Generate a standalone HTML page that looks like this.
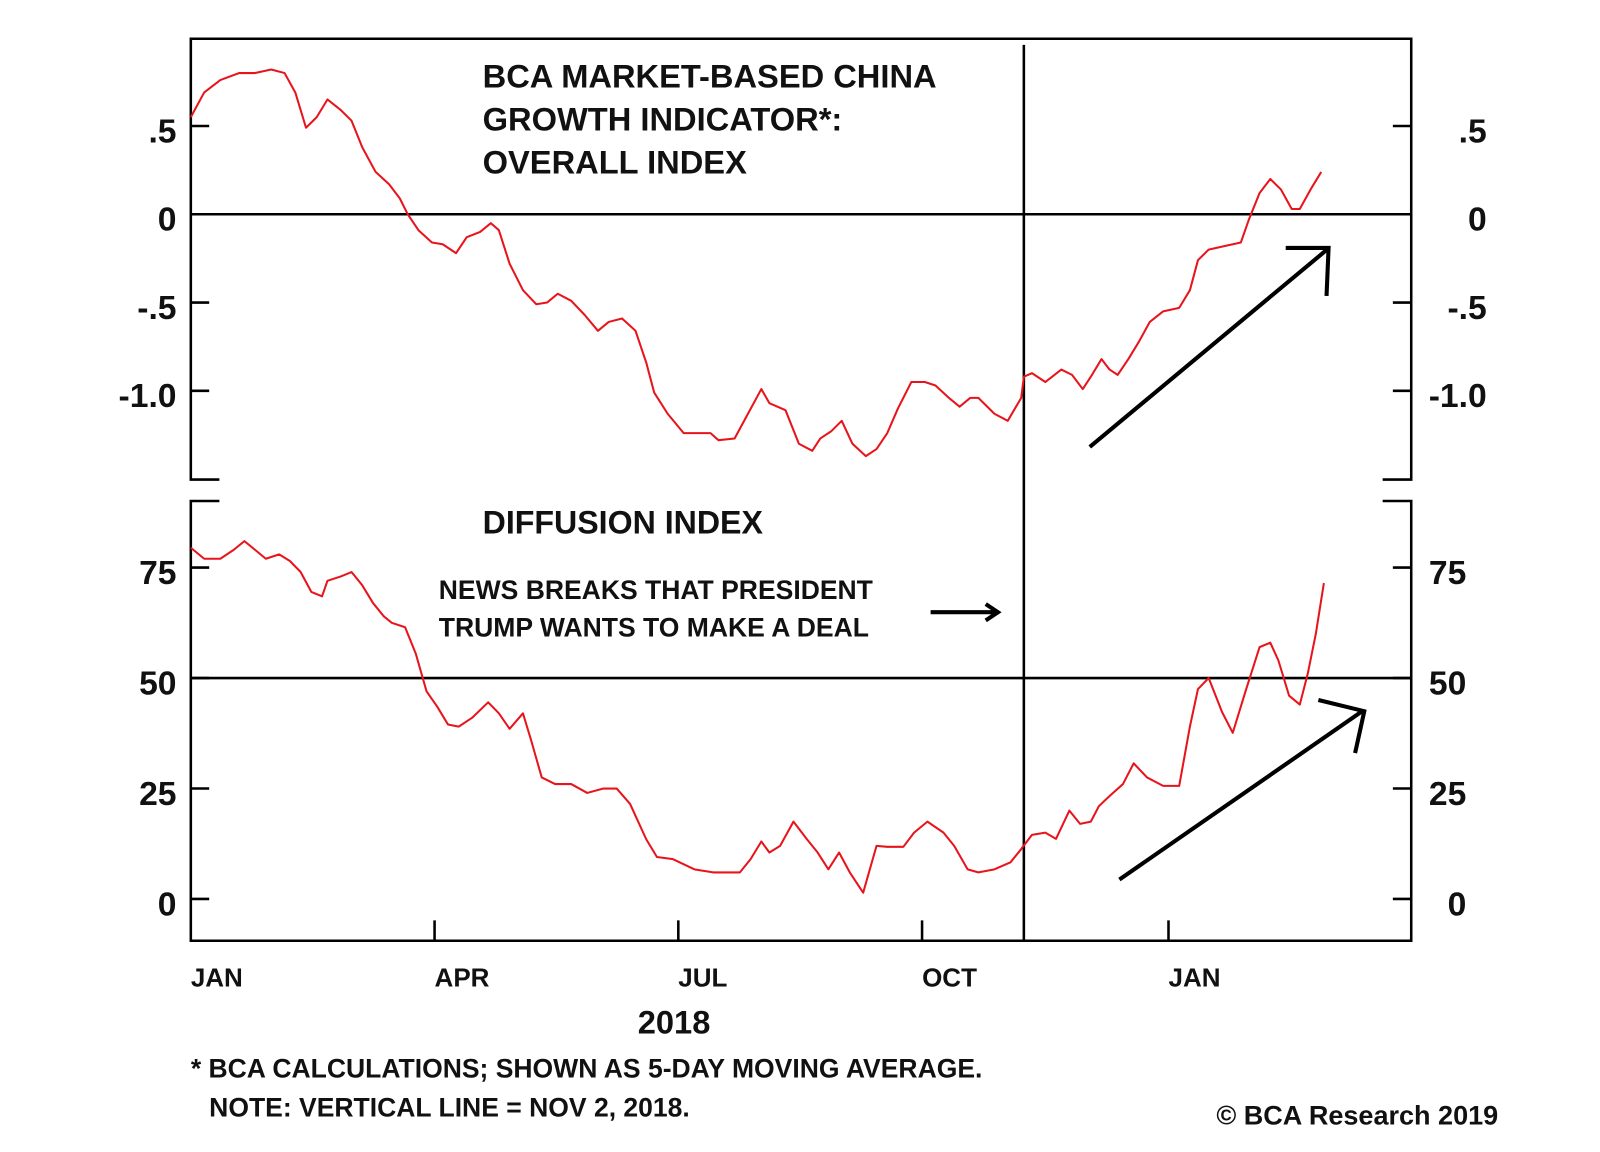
<!DOCTYPE html>
<html><head><meta charset="utf-8"><title>BCA China Growth Indicator</title>
<style>
html,body{margin:0;padding:0;background:#fff;}
svg{display:block;}
text{font-family:"Liberation Sans",Arial,sans-serif;font-weight:bold;fill:#111;}
</style></head>
<body>
<svg id="chart" width="1600" height="1152" viewBox="0 0 1568 1129" preserveAspectRatio="none" xmlns="http://www.w3.org/2000/svg">
<rect x="0" y="0" width="1568" height="1129" fill="#fff"/>
<g id="frame" stroke="#000" stroke-width="2.5" fill="none">
<path d="M215,470 L187,470 L187,38 L1383,38 L1383,470 L1355,470"/>
<path d="M215,491 L187,491 L187,922 L1383,922 L1383,491 L1355,491"/>
</g>
<g id="axes" stroke="#000" stroke-width="2.5"></g>
<g id="labels"></g>
<g id="series"></g>
<g>
<text x="473" y="86" font-size="32">BCA MARKET-BASED CHINA</text>
<text x="473" y="128" font-size="32">GROWTH INDICATOR*:</text>
<text x="473" y="170" font-size="32">OVERALL INDEX</text>
<text x="473" y="523" font-size="31.5">DIFFUSION INDEX</text>
<text x="430" y="587" font-size="26">NEWS BREAKS THAT PRESIDENT</text>
<text x="430" y="624" font-size="26">TRUMP WANTS TO MAKE A DEAL</text>
<g stroke="#000" stroke-width="4" fill="none">
<path d="M912,600 L978,600 M966,592 L978,600 L966,608"/>
<path d="M1068,438 L1300,245 M1260,243 L1302,243 L1300,290"/>
<path d="M1097,862 L1335,697 M1292,686 L1337,697 L1328,738"/>
</g>
<text x="625" y="1013" font-size="32">2018</text>
<text x="187" y="1056" font-size="26">* BCA CALCULATIONS; SHOWN AS 5-DAY MOVING AVERAGE.</text>
<text x="205" y="1094" font-size="26">NOTE: VERTICAL LINE = NOV 2, 2018.</text>
<text x="1192" y="1102" font-size="26.5">© BCA Research 2019</text>
</g>
</svg>
<script>
const topDays=[0,5,11,18,24,30,35,39,43,47,51,56,60,64,69,74,78,81,85,90,94,99,103,108,112,115,119,124,129,133,137,142,147,152,156,161,166,170,173,178,184,190,194,197,203,208,213,216,222,227,232,235,239,243,247,252,256,260,264,269,274,278,283,287,291,294,300,305,310,311,314,319,325,329,333,336,340,343,346,350,354,358,363,369,373,376,380,386,392,395,399,403,407,411,414,418,422];
const topValues=[0.55,0.69,0.76,0.80,0.80,0.82,0.80,0.69,0.49,0.55,0.65,0.59,0.53,0.38,0.24,0.17,0.09,0,-0.09,-0.16,-0.17,-0.22,-0.13,-0.10,-0.05,-0.09,-0.28,-0.43,-0.51,-0.50,-0.45,-0.49,-0.57,-0.66,-0.61,-0.59,-0.66,-0.84,-1.01,-1.13,-1.24,-1.24,-1.24,-1.28,-1.27,-1.13,-0.99,-1.07,-1.11,-1.30,-1.34,-1.27,-1.23,-1.17,-1.30,-1.37,-1.33,-1.24,-1.10,-0.95,-0.95,-0.97,-1.04,-1.09,-1.04,-1.04,-1.13,-1.17,-1.04,-0.92,-0.90,-0.95,-0.88,-0.91,-0.99,-0.92,-0.82,-0.88,-0.91,-0.82,-0.72,-0.61,-0.55,-0.53,-0.43,-0.26,-0.20,-0.18,-0.16,-0.03,0.12,0.20,0.14,0.03,0.03,0.14,0.24];
const botDays=[0,5,11,16,20,24,28,33,37,41,45,49,51,56,60,64,68,72,75,80,84,88,92,96,100,105,111,115,119,124,127,131,136,142,148,154,159,164,170,174,180,188,195,205,209,213,216,220,225,230,234,238,242,246,251,256,260,266,270,275,281,285,290,294,300,306,310,314,319,323,328,332,336,339,343,348,352,357,363,369,373,376,380,385,389,394,399,403,406,410,414,417,420,423];
const botValues=[79.5,77,77,79,81,79,77,78,76.5,74,69.5,68.5,72,73,74,71,67,64,62.5,61.5,55.5,47,43.5,39.5,39,41,44.5,42,38.5,42,36,27.5,26,26,24,25,25,21.5,13.5,9.5,9,6.7,6,6,9,13,10.5,12,17.5,13.5,10.5,6.7,10.5,6,1.4,12,11.8,11.8,15,17.5,15,12,6.7,6,6.7,8.3,11.3,14.5,15,13.6,20,17,17.5,21,23.3,26,30.7,27.5,25.6,25.6,39,47.5,50,42.3,37.6,47.5,57,58,54,46,44,51,60,71.5];
const topTicks=[0.5,0,-0.5,-1.0];
const topTickLabels=[".5","0","-.5","-1.0"];
const botTicks=[75,50,25,0];
const botTickLabels=["75","50","25","0"];
const monthDays=[0,91,182,273,365];
const monthLabels=["JAN","APR","JUL","OCT","JAN"];
const markerDay=311;

const NS="http://www.w3.org/2000/svg";
const xS=d=>187+d*2.625;
const yTop=v=>210-v*173;
const yBot=v=>881-v*4.33;
function mk(tag,attrs,parent){const e=document.createElementNS(NS,tag);for(const k in attrs)e.setAttribute(k,attrs[k]);document.getElementById(parent).appendChild(e);return e;}

let l=mk('line',{x1:187,x2:1383,y1:yTop(0),y2:yTop(0)},'axes');


l=mk('line',{x1:187,x2:1383,y1:yBot(50),y2:yBot(50)},'axes');


l=mk('line',{x1:xS(markerDay),x2:xS(markerDay),y1:44,y2:922},'axes');



function yTicks(ticks,labels,sc,name,rightEnd){
  ticks.forEach((t,i)=>{
    const y=sc(t);
    let a=mk('line',{x1:187,x2:205,y1:y,y2:y},'axes');
    
    
    a=mk('line',{x1:1365,x2:1383,y1:y,y2:y},'axes');
    
    
    let tx=mk('text',{x:173,y:y+16,'font-size':33,'text-anchor':'end'},'labels');
    tx.textContent=labels[i];
    
    
    tx=mk('text',{x:rightEnd,y:y+16,'font-size':33,'text-anchor':'end'},'labels');
    tx.textContent=labels[i];
    
    
  });
}
yTicks(topTicks,topTickLabels,yTop,'top-y',1457);
yTicks(botTicks,botTickLabels,yBot,'bottom-y',1437);

monthDays.forEach((d,i)=>{
  const x=xS(d);
  if(i>0){
    const t=mk('line',{x1:x,x2:x,y1:902,y2:922},'axes');
    
    
  }
  const tx=mk('text',{x:x,y:967,'font-size':25.5},'labels');
  tx.textContent=monthLabels[i];
  
  
});

function line(days,vals,sc,name){
  const d=days.map((dd,i)=>(i?'L':'M')+xS(dd).toFixed(1)+','+sc(vals[i]).toFixed(1)).join(' ');
  const p=mk('path',{d:d,fill:'none',stroke:'#e8141c','stroke-width':2,'stroke-linejoin':'round'},'series');
  
  
}
line(topDays,topValues,yTop,'overall-index-line');
line(botDays,botValues,yBot,'diffusion-index-line');
</script>
</body></html>
